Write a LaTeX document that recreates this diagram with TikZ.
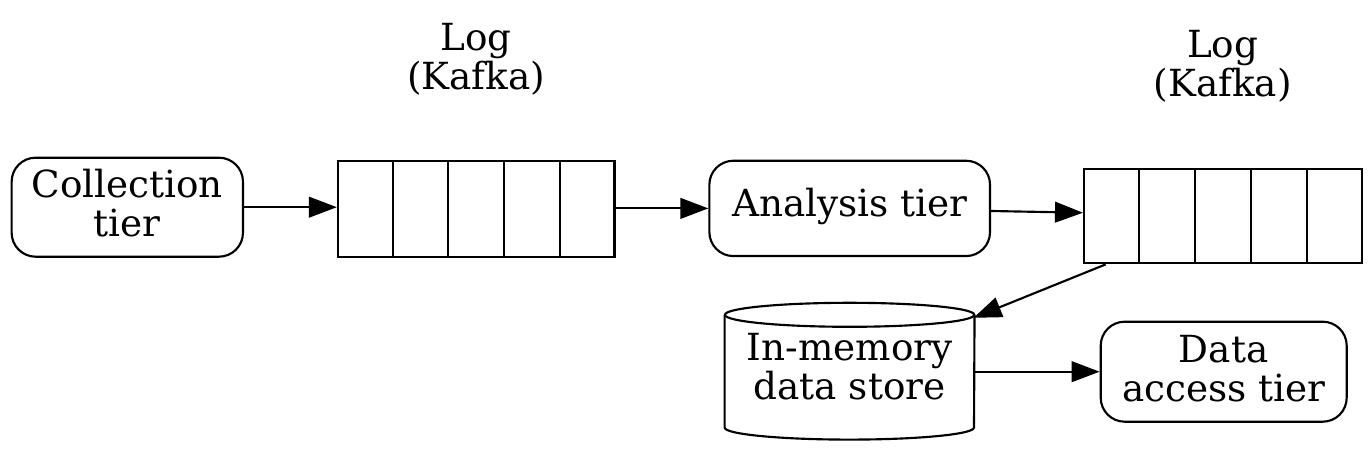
\documentclass[tikz,border=0pt]{standalone}
\usepackage{fontspec}
\setmainfont{DejaVu Serif}
\usetikzlibrary{arrows.meta,calc}
\begin{document}
\begin{tikzpicture}[x=0.75pt,y=-0.75pt,
  lw/.style={line width=1.6pt},
  tier/.style={draw,lw,rounded corners=18pt,inner sep=0pt},
  rec/.style={draw,lw,inner sep=0pt},
  txt/.style={align=center,inner sep=0pt,anchor=base,font=\fontsize{28}{29.25}\selectfont},
  arr/.style={lw,-{Triangle[length=21pt,width=15.5pt]}}]
\useasboundingbox (0,0) rectangle (1372,452);
% shapes
\node[tier,minimum width=173.5pt,minimum height=74.25pt] (coll) at (127.3,207.2) {};
\node[rec,minimum width=207.4pt,minimum height=71.8pt] (log1) at (476.2,208.8) {};
\node[tier,minimum width=210.5pt,minimum height=71.5pt] (ana) at (849.7,208.4) {};
\node[rec,minimum width=208.3pt,minimum height=70.7pt] (log2) at (1222.9,216.2) {};
\node[tier,minimum width=184.5pt,minimum height=75pt] (dat) at (1223.7,371.7) {};
\node[inner sep=0pt,minimum width=187pt,minimum height=102.2pt] (st) at (849.6,371.2) {};
% texts (anchor = baseline of the last line)
\node[txt] (collT) at (127.3,236.7) {Collection\\tier};
\node[txt] (anaT) at (849.7,216.7) {Analysis tier};
\node[txt] (datT) at (1223.7,401.7) {Data\\access tier};
\node[txt] (stT) at (849.6,400) {In-memory\\data store};
\node[txt] (lab1) at (476,89.3) {Log\\(Kafka)};
\node[txt] (lab2) at (1222.6,96.7) {Log\\(Kafka)};
% record dividers
\foreach \i in {1,...,4} {
  \draw[lw] ($(log1.north west)!\i/5!(log1.north east)$) -- ($(log1.south west)!\i/5!(log1.south east)$);
  \draw[lw] ($(log2.north west)!\i/5!(log2.north east)$) -- ($(log2.south west)!\i/5!(log2.south east)$);
}
% cylinder
\draw[lw] ([yshift=-9pt]st.north) ellipse[x radius=93.5pt,y radius=9pt];
\draw[lw] ([yshift=-9pt]st.north west) -- ([yshift=9pt]st.south west)
  arc[start angle=180,end angle=360,x radius=93.5pt,y radius=9pt]
  -- ([yshift=-9pt]st.north east);
% edges
\coordinate (anaout) at ([yshift=-1.95pt]ana.east);
\coordinate (l2in) at ([yshift=2.6pt]log2.west);
\coordinate (l2out) at ([xshift=17pt]log2.south west);
\coordinate (stin) at ([xshift=-0.75pt,yshift=-11.25pt]st.north east);
\draw[arr] (coll.east) -- (coll.east -| log1.west);
\draw[arr] (log1.east |- ana.west) -- (ana.west);
\draw[arr] (anaout) -- (l2in);
\draw[arr] (l2out) -- (stin);
\draw[arr] (st.east |- dat.west) -- (dat.west);
\end{tikzpicture}
\end{document}
